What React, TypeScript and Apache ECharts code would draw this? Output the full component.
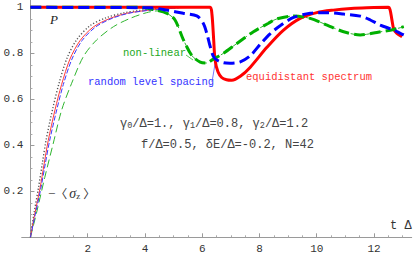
import React, { useEffect, useRef } from "react";
import * as echarts from "echarts";

// ---- data ----
const xMajorTicks = [2, 4, 6, 8, 10, 12];
const xMinorTicks = [0.5, 1, 1.5, 2.5, 3, 3.5, 4.5, 5, 5.5, 6.5, 7, 7.5, 8.5, 9, 9.5, 10.5, 11, 11.5, 12.5, 13];
const yMajorTicks = [0.2, 0.4, 0.6, 0.8, 1];
const yMinorTicks = [0.05, 0.1, 0.15, 0.25, 0.3, 0.35, 0.45, 0.5, 0.55, 0.65, 0.7, 0.75, 0.85, 0.9, 0.95];

// P, equidistant spectrum (thick red)
const redT = [0, 6.0, 6.28, 6.34, 6.4, 6.45, 6.55, 6.68, 6.85, 7.03, 7.33, 7.68, 8.26, 8.83, 9.42, 10.0, 10.58, 11.2, 11.75, 12.5, 12.56, 12.62, 12.69, 12.8, 12.98];
const redP = [1, 1, 1, 0.97, 0.86, 0.77, 0.72, 0.695, 0.685, 0.683, 0.7, 0.74, 0.826, 0.9, 0.952, 0.977, 0.988, 0.995, 0.998, 1, 0.99, 0.95, 0.905, 0.887, 0.872];

// P, non-linear (thick green dashed)
const greenT = [0, 3.8, 4.3, 4.77, 5.05, 5.34, 5.64, 5.93, 6.15, 6.39, 6.74, 7.21, 7.79, 8.3, 8.61, 9.19, 9.77, 10.36, 10.94, 11.52, 12.1, 12.69, 13.04];
const greenP = [1, 1, 0.99, 0.974, 0.945, 0.86, 0.79, 0.762, 0.758, 0.775, 0.8, 0.843, 0.894, 0.93, 0.95, 0.962, 0.952, 0.923, 0.894, 0.88, 0.891, 0.904, 0.916];

// P, random level spacing (thick blue dashed)
const blueT = [0, 4.2, 4.76, 5.34, 5.81, 6.04, 6.16, 6.28, 6.39, 6.51, 6.74, 6.97, 7.33, 7.68, 8.03, 8.37, 8.72, 9.19, 9.77, 10.36, 10.94, 11.52, 11.87, 12.22, 12.69, 12.92, 13.04];
const blueP = [1, 0.998, 0.988, 0.974, 0.963, 0.93, 0.887, 0.829, 0.787, 0.771, 0.759, 0.757, 0.763, 0.79, 0.84, 0.885, 0.92, 0.956, 0.974, 0.977, 0.971, 0.962, 0.945, 0.923, 0.901, 0.887, 0.88];

// -<sigma_z> curves (thin)
const sigRedT = [0, 0.15, 0.33, 0.48, 0.62, 0.86, 1.09, 1.38, 1.73, 2.2, 2.78, 3.36, 3.94, 4.47, 5.2, 6.0];
const sigRedV = [0, 0.1, 0.21, 0.32, 0.42, 0.555, 0.665, 0.775, 0.855, 0.915, 0.952, 0.974, 0.985, 0.992, 0.998, 1];

const sigBlackT = [0, 0.12, 0.28, 0.42, 0.55, 0.78, 1.0, 1.28, 1.62, 2.08, 2.65, 3.25, 3.85, 4.4, 5.1];
const sigBlackV = [0, 0.1, 0.215, 0.325, 0.425, 0.56, 0.67, 0.78, 0.86, 0.92, 0.955, 0.976, 0.987, 0.993, 0.998];

const sigBlueT = [0, 0.17, 0.36, 0.52, 0.67, 0.92, 1.15, 1.45, 1.8, 2.28, 2.85, 3.42, 4.0, 4.5, 5.2];
const sigBlueV = [0, 0.1, 0.21, 0.32, 0.42, 0.555, 0.665, 0.775, 0.855, 0.915, 0.952, 0.974, 0.985, 0.992, 0.998];

const sigGreenT = [0, 0.22, 0.5, 0.8, 1.09, 1.44, 1.85, 2.31, 2.9, 3.48, 4.06, 4.47, 4.77, 5.05, 5.34, 5.64, 5.93, 6.15, 6.39, 6.74, 7.21, 7.79, 8.3, 8.61, 9.19, 9.77, 10.36, 10.94, 11.52, 12.1, 12.69, 13.04];
const sigGreenV = [0, 0.11, 0.26, 0.41, 0.553, 0.67, 0.786, 0.858, 0.916, 0.952, 0.977, 0.985, 0.974, 0.945, 0.86, 0.79, 0.762, 0.758, 0.775, 0.8, 0.843, 0.894, 0.93, 0.95, 0.962, 0.952, 0.923, 0.894, 0.88, 0.891, 0.904, 0.916];

const X_MIN = -0.305;
const X_MAX = 13.317;
const Y_MIN = 0;
const Y_MAX = 1.032;

const GRID_LEFT = 21.7;
const GRID_RIGHT = 3.3;
const CHART_W = 415;
// shift of the y axis from the grid's left edge to t = 0
const Y_AXIS_SHIFT = ((0 - X_MIN) / (X_MAX - X_MIN)) * (CHART_W - GRID_LEFT - GRID_RIGHT);

const pairs = (xs: number[], ys: number[]) => xs.map((x, i) => [x, ys[i]]);

const MONO = "Liberation Mono";
const SERIF = "Liberation Serif";
const CJK = "Noto Sans CJK SC";

export default function App() {
  const ref = useRef<HTMLDivElement>(null);

  useEffect(() => {
    if (!ref.current) return;
    const chart = echarts.init(ref.current, undefined, { renderer: "svg" });

    const line = (name: string, xs: number[], ys: number[], color: string, width: number, type: any, z: number) => ({
      name,
      type: "line",
      data: pairs(xs, ys),
      showSymbol: false,
      smooth: 0.3,
      z,
      lineStyle: { color, width, type },
      silent: true,
    });

    const txt = (x: number, y: number, text: string, size: number, fill: string, family = MONO, extra: any = {}) => ({
      type: "text",
      x,
      y,
      style: { text, fontFamily: family, fontSize: size, fill, verticalAlign: "middle", ...extra },
    });

    chart.setOption({
      animation: false,
      backgroundColor: "#ffffff",
      grid: { left: GRID_LEFT, right: GRID_RIGHT, top: 0, bottom: 19.7, containLabel: false, outerBoundsMode: "none" },
      xAxis: [
        {
          type: "value",
          min: X_MIN,
          max: X_MAX,
          axisLine: { onZero: true, lineStyle: { color: "#9a9a9a", width: 1 } },
          axisTick: { show: true, inside: true, length: 4, customValues: xMajorTicks, lineStyle: { color: "#9a9a9a" } },
          axisLabel: { customValues: xMajorTicks, margin: 6, color: "#333", fontFamily: MONO, fontSize: 11 },
          splitLine: { show: false },
        },
        {
          type: "value",
          position: "bottom",
          min: X_MIN,
          max: X_MAX,
          axisLine: { show: false },
          axisTick: { show: true, inside: true, length: 2, customValues: xMinorTicks, lineStyle: { color: "#aaaaaa" } },
          axisLabel: { show: false },
          splitLine: { show: false },
        },
      ],
      yAxis: [
        {
          type: "value",
          position: "left",
          offset: -Y_AXIS_SHIFT,
          min: Y_MIN,
          max: Y_MAX,
          axisLine: { show: true, onZero: false, lineStyle: { color: "#9a9a9a", width: 1 } },
          axisTick: { show: true, inside: true, length: 4, customValues: yMajorTicks, lineStyle: { color: "#9a9a9a" } },
          axisLabel: {
            customValues: yMajorTicks,
            margin: 7,
            color: "#333",
            fontFamily: MONO,
            fontSize: 11,
            formatter: (v: number) => (Math.abs(v - 1) < 1e-9 ? "1" : v.toFixed(1)),
          },
          splitLine: { show: false },
        },
        {
          type: "value",
          position: "left",
          offset: -Y_AXIS_SHIFT,
          min: Y_MIN,
          max: Y_MAX,
          axisLine: { show: false, onZero: false },
          axisTick: { show: true, inside: true, length: 2, customValues: yMinorTicks, lineStyle: { color: "#aaaaaa" } },
          axisLabel: { show: false },
          splitLine: { show: false },
        },
      ],
      series: [
        line("sigma green", sigGreenT, sigGreenV, "#2fb52f", 1, [8, 4], 1),
        line("sigma black", sigBlackT, sigBlackV, "#555555", 1.4, [1.2, 2], 2),
        line("sigma red", sigRedT, sigRedV, "#ff3a3a", 1, "solid", 3),
        line("sigma blue", sigBlueT, sigBlueV, "#3a3aff", 1, [5, 2], 4),
        line("P equidistant", redT, redP, "#ff0000", 3, "solid", 5),
        line("P non-linear", greenT, greenP, "#00b000", 3, [11, 5], 6),
        line("P random", blueT, blueP, "#0000ff", 3, [11, 5], 7),
      ],
      graphic: [
        txt(50, 19, "P", 13, "#222", SERIF, { fontStyle: "italic" }),
        txt(123, 53, "non-linear", 10.5, "#22a822"),
        { type: "line", shape: { x1: 186, y1: 55, x2: 193, y2: 60 }, style: { stroke: "#33bb33", lineWidth: 0.8 } },
        txt(88, 82, "random level spacing", 10.5, "#3333ff"),
        { type: "line", shape: { x1: 212, y1: 82, x2: 216, y2: 58 }, style: { stroke: "#5555ff", lineWidth: 0.8 } },
        txt(246, 77, "equidistant spectrum", 10.5, "#ff3333"),
        txt(120, 123.5, "γ{s|0}/Δ=1., γ{s|1}/Δ=0.8, γ{s|2}/Δ=1.2", 12, "#444", MONO, {
          rich: { s: { fontFamily: MONO, fontSize: 8.5, fill: "#444", padding: [5, 0, 0, 0] } },
        }),
        txt(141, 145, "f/Δ=0.5, δE/Δ=-0.2, N=42", 12, "#444"),
        txt(48, 193, "−{b|〈}{i|σ}{s|z}{c|〉}", 13, "#333", SERIF, {
          rich: {
            b: { fontFamily: CJK, fontSize: 12, fill: "#333", padding: [0, 2, 0, 0] },
            c: { fontFamily: CJK, fontSize: 12, fill: "#333", padding: [0, 0, 0, 3] },
            i: { fontFamily: SERIF, fontStyle: "italic", fontSize: 14, fill: "#333" },
            s: { fontFamily: SERIF, fontSize: 9, fill: "#333", padding: [6, 0, 0, 0] },
          },
        }),
        txt(390, 226, "t Δ", 12, "#333"),
      ],
    });

    return () => chart.dispose();
  }, []);

  return <div ref={ref} style={{ position: "fixed", left: 0, top: 0, width: 415, height: 257, background: "#fff" }} />;
}
